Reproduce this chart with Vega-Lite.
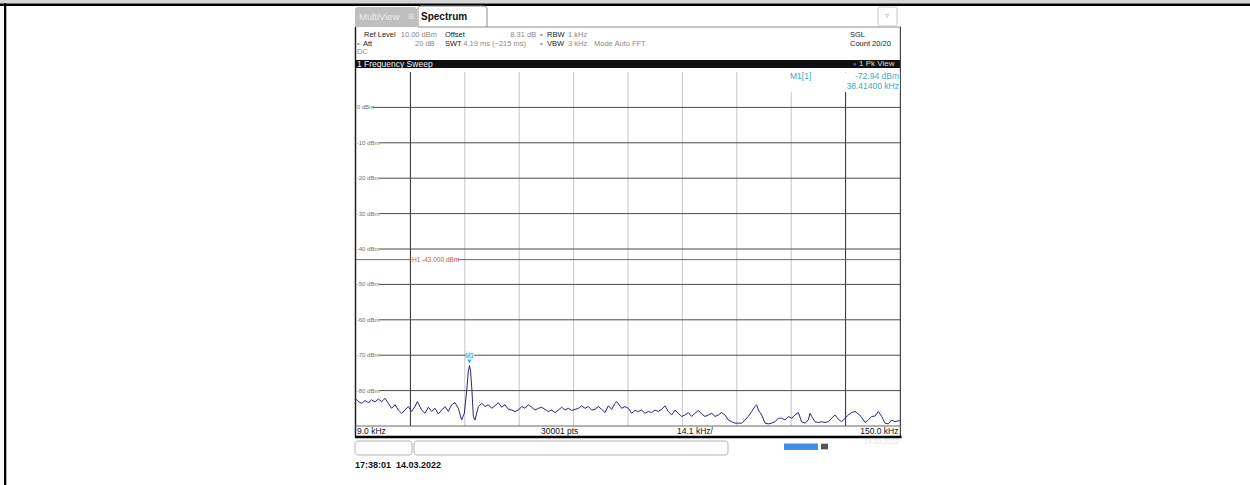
{
"$schema": "https://vega.github.io/schema/vega-lite/v6.json",
"autosize": "none",
"width": 544,
"height": 354,
"padding": {"left": 356, "top": 72, "right": 350, "bottom": 59},
"background": "white",
"config": {"axis": {"disable": true}, "view": {"stroke": null}, "font": "Liberation Sans"},
"data": {"values": [{}]},
"datasets": {
"trace": [
{"f":9.0,"p":-82.4},{"f":9.6,"p":-83.1},{"f":10.47,"p":-83.6},{"f":11.33,"p":-82.8},{"f":12.2,"p":-83.4},{"f":13.06,"p":-82.6},{"f":13.92,"p":-83.2},{"f":14.79,"p":-82.4},{"f":15.65,"p":-83.1},{"f":16.52,"p":-82.2},{"f":17.38,"p":-83.6},{"f":18.24,"p":-85.0},{"f":19.11,"p":-84.0},{"f":19.97,"p":-85.5},{"f":20.84,"p":-86.4},{"f":21.7,"p":-85.5},{"f":22.56,"p":-84.5},{"f":23.43,"p":-85.9},{"f":24.29,"p":-84.5},{"f":24.9,"p":-83.1},{"f":26.02,"p":-85.5},{"f":26.88,"p":-86.4},{"f":27.75,"p":-84.7},{"f":28.61,"p":-85.9},{"f":29.48,"p":-85.0},{"f":30.34,"p":-86.6},{"f":31.21,"p":-85.5},{"f":32.07,"p":-84.5},{"f":32.93,"p":-85.9},{"f":33.8,"p":-84.0},{"f":34.66,"p":-83.4},{"f":35.52,"p":-85.0},{"f":36.39,"p":-88.3},{"f":37.08,"p":-86.4},{"f":37.69,"p":-80.0},{"f":38.12,"p":-74.5},{"f":38.414,"p":-72.94},{"f":38.7,"p":-74.5},{"f":39.05,"p":-80.0},{"f":39.41,"p":-87.3},{"f":39.84,"p":-88.3},{"f":40.71,"p":-84.5},{"f":41.57,"p":-83.6},{"f":42.44,"p":-84.5},{"f":43.3,"p":-84.0},{"f":44.17,"p":-85.0},{"f":45.03,"p":-84.3},{"f":45.89,"p":-83.4},{"f":46.76,"p":-84.7},{"f":47.62,"p":-84.0},{"f":48.48,"p":-85.3},{"f":49.35,"p":-85.5},{"f":50.21,"p":-85.9},{"f":51.08,"p":-85.5},{"f":51.94,"p":-84.5},{"f":52.8,"p":-85.0},{"f":53.67,"p":-84.0},{"f":54.53,"p":-84.7},{"f":55.4,"p":-85.5},{"f":56.26,"p":-85.0},{"f":57.13,"p":-84.7},{"f":57.99,"p":-85.3},{"f":58.85,"p":-85.9},{"f":59.72,"p":-85.5},{"f":60.58,"p":-86.2},{"f":61.44,"p":-85.5},{"f":62.31,"p":-84.7},{"f":63.17,"p":-85.5},{"f":64.04,"p":-85.0},{"f":64.9,"p":-85.6},{"f":65.76,"p":-85.3},{"f":66.63,"p":-85.0},{"f":67.49,"p":-84.3},{"f":68.36,"p":-85.0},{"f":69.22,"p":-84.5},{"f":70.08,"p":-85.5},{"f":70.95,"p":-85.3},{"f":71.81,"p":-84.5},{"f":72.68,"p":-85.3},{"f":73.54,"p":-86.2},{"f":74.41,"p":-84.3},{"f":75.27,"p":-85.3},{"f":76.13,"p":-83.6},{"f":76.56,"p":-83.1},{"f":77.86,"p":-85.0},{"f":78.72,"p":-84.5},
{"f":79.58,"p":-85.0},{"f":80.45,"p":-86.4},{"f":81.31,"p":-85.6},{"f":82.18,"p":-85.9},{"f":83.04,"p":-85.5},{"f":83.9,"p":-86.4},{"f":84.77,"p":-85.9},{"f":85.63,"p":-86.2},{"f":86.5,"p":-85.5},{"f":87.36,"p":-85.9},{"f":88.22,"p":-85.3},{"f":89.09,"p":-84.3},{"f":89.95,"p":-85.9},{"f":90.82,"p":-86.9},{"f":91.68,"p":-85.5},{"f":92.54,"p":-86.4},{"f":93.41,"p":-87.3},{"f":94.27,"p":-86.9},{"f":95.14,"p":-86.2},{"f":96.0,"p":-87.3},{"f":96.86,"p":-86.4},{"f":97.73,"p":-85.6},{"f":98.59,"p":-86.6},{"f":99.46,"p":-87.3},{"f":100.32,"p":-86.9},{"f":101.18,"p":-86.4},{"f":102.05,"p":-87.3},{"f":102.91,"p":-86.9},{"f":103.78,"p":-86.2},{"f":104.64,"p":-86.9},{"f":105.5,"p":-88.3},{"f":106.37,"p":-88.8},{"f":107.23,"p":-89.2},{"f":108.1,"p":-89.2},{"f":108.96,"p":-89.2},{"f":109.82,"p":-88.3},{"f":110.69,"p":-87.3},{"f":111.55,"p":-85.9},{"f":112.42,"p":-84.5},{"f":112.85,"p":-84.0},{"f":113.28,"p":-85.5},{"f":114.14,"p":-86.9},{"f":115.01,"p":-89.2},{"f":115.87,"p":-89.4},{"f":116.74,"p":-89.2},{"f":117.6,"p":-88.8},{"f":118.46,"p":-87.8},{"f":119.33,"p":-87.8},{"f":120.19,"p":-88.3},{"f":121.06,"p":-87.3},{"f":121.92,"p":-87.8},{"f":122.78,"p":-86.9},{"f":123.65,"p":-86.2},{"f":124.51,"p":-88.8},{"f":125.38,"p":-89.2},{"f":126.24,"p":-88.3},{"f":126.67,"p":-86.4},{"f":127.1,"p":-87.3},{"f":127.97,"p":-88.8},{"f":128.83,"p":-89.0},{"f":129.7,"p":-88.8},{"f":130.56,"p":-89.0},{"f":131.42,"p":-88.8},{"f":132.29,"p":-87.8},{"f":133.15,"p":-86.9},{"f":134.02,"p":-88.1},{"f":134.88,"p":-88.8},{"f":135.74,"p":-87.8},{"f":136.61,"p":-86.9},{"f":137.47,"p":-86.2},{"f":138.34,"p":-85.9},{"f":139.2,"p":-86.6},{"f":140.06,"p":-87.5},{"f":140.93,"p":-89.0},{"f":141.79,"p":-88.3},{"f":142.66,"p":-87.3},{"f":143.52,"p":-87.2},{"f":144.38,"p":-85.9},{"f":145.25,"p":-87.3},{"f":146.11,"p":-89.2},{"f":146.98,"p":-89.4},{"f":147.84,"p":-88.3},{"f":148.7,"p":-88.8},{"f":149.57,"p":-88.5},{"f":150.0,"p":-88.6}
],
"vlight": [{"f":37.2},{"f":51.3},{"f":65.4},{"f":79.5},{"f":93.6},{"f":107.7},{"f":121.8}],
"vdark": [{"f":23.1},{"f":135.9}],
"hgrid": [{"lvl":-10,"lab":"-10 dBm"},{"lvl":-20,"lab":"-20 dBm"},{"lvl":-30,"lab":"-30 dBm"},{"lvl":-40,"lab":"-40 dBm"},{"lvl":-50,"lab":"-50 dBm"},{"lvl":-60,"lab":"-60 dBm"},{"lvl":-70,"lab":"-70 dBm"},{"lvl":-80,"lab":"-80 dBm"}],
"hgrid0": [{"lvl":0,"lab":"0 dBm"}]
},
"layer": [
{"mark": {"type": "rect", "fill": "#d4d4d4"}, "encoding": {"x": {"datum": -84}, "x2": {"datum": 242}, "y": {"datum": 30.4}, "y2": {"datum": 29.35}}},
{"mark": {"type": "rule", "stroke": "black", "strokeWidth": 2.6}, "encoding": {"x": {"datum": -84}, "x2": {"datum": 242}, "y": {"datum": 29.0}}},
{"mark": {"type": "rule", "stroke": "black", "strokeWidth": 2.3}, "encoding": {"x": {"datum": -81.94}, "y": {"datum": 29.4}, "y2": {"datum": -107}}},

{"mark": {"type": "rect", "fill": "#bfbfbf", "cornerRadiusTopLeft": 3, "cornerRadiusTopRight": 3}, "encoding": {"x": {"datum": 8.74}, "x2": {"datum": 24.81}, "y": {"datum": 28.36}, "y2": {"datum": 22.71}}},
{"mark": {"type": "rect", "fill": "white", "stroke": "#8a8a8a", "strokeWidth": 1, "cornerRadiusTopLeft": 3, "cornerRadiusTopRight": 3}, "encoding": {"x": {"datum": 25.07}, "x2": {"datum": 42.95}, "y": {"datum": 28.64}, "y2": {"datum": 22.71}}},
{"mark": {"type": "rule", "stroke": "#8a8a8a", "strokeWidth": 1}, "encoding": {"x": {"datum": 42.95}, "x2": {"datum": 150.26}, "y": {"datum": 22.71}}},
{"mark": {"type": "rect", "fill": "white", "stroke": "#c8c8c8", "strokeWidth": 1, "cornerRadius": 2}, "encoding": {"x": {"datum": 144.3}, "x2": {"datum": 149.22}, "y": {"datum": 28.36}, "y2": {"datum": 22.99}}},
{"mark": {"type": "text", "text": "▿", "align": "center", "fontSize": 8, "color": "#b0b0b0"}, "encoding": {"x": {"datum": 146.76}, "y": {"datum": 25.8}}},
{"mark": {"type": "text", "text": "MultiView", "align": "left", "fontSize": 9.5, "color": "#ececec"}, "encoding": {"x": {"datum": 9.78}, "y": {"datum": 25.4}}},
{"mark": {"type": "text", "text": "⊞", "align": "left", "fontSize": 8, "color": "#e6e6e6"}, "encoding": {"x": {"datum": 22.5}, "y": {"datum": 25.4}}},
{"mark": {"type": "text", "text": "Spectrum", "align": "left", "fontSize": 10, "fontWeight": "bold", "color": "#111111"}, "encoding": {"x": {"datum": 25.85}, "y": {"datum": 25.4}}},

{"mark": {"type": "text", "text": "Ref Level", "align": "left", "fontSize": 7.5, "color": "#222222"}, "encoding": {"x": {"datum": 11.07}, "y": {"datum": 20.45}}},
{"mark": {"type": "text", "text": "10.00 dBm", "align": "left", "fontSize": 7.5, "color": "#8a8a8a"}, "encoding": {"x": {"datum": 20.6}, "y": {"datum": 20.45}}},
{"mark": {"type": "text", "text": "Offset", "align": "left", "fontSize": 7.5, "color": "#222222"}, "encoding": {"x": {"datum": 32.07}, "y": {"datum": 20.45}}},
{"mark": {"type": "text", "text": "8.31 dB", "align": "left", "fontSize": 7.5, "color": "#8a8a8a"}, "encoding": {"x": {"datum": 49.0}, "y": {"datum": 20.45}}},
{"mark": {"type": "text", "text": "•", "align": "left", "fontSize": 7.5, "color": "#8a8a8a"}, "encoding": {"x": {"datum": 56.69}, "y": {"datum": 20.45}}},
{"mark": {"type": "text", "text": "RBW", "align": "left", "fontSize": 7.5, "color": "#222222"}, "encoding": {"x": {"datum": 58.5}, "y": {"datum": 20.45}}},
{"mark": {"type": "text", "text": "1 kHz", "align": "left", "fontSize": 7.5, "color": "#8a8a8a"}, "encoding": {"x": {"datum": 63.95}, "y": {"datum": 20.45}}},
{"mark": {"type": "text", "text": "SGL", "align": "left", "fontSize": 7.5, "color": "#222222"}, "encoding": {"x": {"datum": 137.04}, "y": {"datum": 20.45}}},
{"mark": {"type": "text", "text": "•", "align": "left", "fontSize": 7.5, "color": "#8a8a8a"}, "encoding": {"x": {"datum": 9.26}, "y": {"datum": 17.91}}},
{"mark": {"type": "text", "text": "Att", "align": "left", "fontSize": 7.5, "color": "#222222"}, "encoding": {"x": {"datum": 10.81}, "y": {"datum": 17.91}}},
{"mark": {"type": "text", "text": "20 dB", "align": "left", "fontSize": 7.5, "color": "#8a8a8a"}, "encoding": {"x": {"datum": 24.29}, "y": {"datum": 17.91}}},
{"mark": {"type": "text", "text": "SWT", "align": "left", "fontSize": 7.5, "color": "#222222"}, "encoding": {"x": {"datum": 32.07}, "y": {"datum": 17.91}}},
{"mark": {"type": "text", "text": "4.19 ms (~215 ms)", "align": "left", "fontSize": 7.5, "color": "#8a8a8a"}, "encoding": {"x": {"datum": 36.8}, "y": {"datum": 17.91}}},
{"mark": {"type": "text", "text": "•", "align": "left", "fontSize": 7.5, "color": "#8a8a8a"}, "encoding": {"x": {"datum": 56.69}, "y": {"datum": 17.91}}},
{"mark": {"type": "text", "text": "VBW", "align": "left", "fontSize": 7.5, "color": "#222222"}, "encoding": {"x": {"datum": 58.5}, "y": {"datum": 17.91}}},
{"mark": {"type": "text", "text": "3 kHz", "align": "left", "fontSize": 7.5, "color": "#8a8a8a"}, "encoding": {"x": {"datum": 63.95}, "y": {"datum": 17.91}}},
{"mark": {"type": "text", "text": "Mode Auto FFT", "align": "left", "fontSize": 7.5, "color": "#8a8a8a"}, "encoding": {"x": {"datum": 70.69}, "y": {"datum": 17.91}}},
{"mark": {"type": "text", "text": "Count 20/20", "align": "left", "fontSize": 7.5, "color": "#222222"}, "encoding": {"x": {"datum": 137.04}, "y": {"datum": 17.91}}},
{"mark": {"type": "text", "text": "DC", "align": "left", "fontSize": 7.5, "color": "#8a8a8a"}, "encoding": {"x": {"datum": 9.26}, "y": {"datum": 15.65}}},

{"mark": {"type": "rect", "fill": "#101010"}, "encoding": {"x": {"datum": 8.74}, "x2": {"datum": 150.26}, "y": {"datum": 13.39}, "y2": {"datum": 11.13}}},
{"mark": {"type": "text", "text": "1 Frequency Sweep", "align": "left", "fontSize": 8.5, "color": "#f2f2f2"}, "encoding": {"x": {"datum": 9.26}, "y": {"datum": 12.26}}},
{"mark": {"type": "text", "text": "●", "align": "left", "fontSize": 6, "color": "#3c5ae0"}, "encoding": {"x": {"datum": 137.8}, "y": {"datum": 12.26}}},
{"mark": {"type": "text", "text": "1 Pk View", "align": "left", "fontSize": 8, "color": "#dcdcdc"}, "encoding": {"x": {"datum": 139.4}, "y": {"datum": 12.26}}},

{"mark": {"type": "rule", "stroke": "#222222", "strokeWidth": 1.5}, "encoding": {"x": {"datum": 8.87}, "y": {"datum": 22.71}, "y2": {"datum": -93.1}}},
{"mark": {"type": "rule", "stroke": "#444444", "strokeWidth": 1.2}, "encoding": {"x": {"datum": 150.1}, "y": {"datum": 22.71}, "y2": {"datum": -93.1}}},

{"data": {"name": "vlight"}, "mark": {"type": "rule", "stroke": "#c6c6c6", "strokeWidth": 1}, "encoding": {"x": {"field": "f", "type": "quantitative"}, "y": {"datum": 10}, "y2": {"datum": -90}}},
{"data": {"name": "vdark"}, "mark": {"type": "rule", "stroke": "#2a2a2a", "strokeWidth": 1}, "encoding": {"x": {"field": "f", "type": "quantitative"}, "y": {"datum": 10}, "y2": {"datum": -90}}},
{"data": {"name": "hgrid"}, "mark": {"type": "rule", "stroke": "#4a4a4a", "strokeWidth": 1}, "encoding": {"x": {"datum": 15.0}, "x2": {"datum": 150}, "y": {"field": "lvl", "type": "quantitative"}}},
{"data": {"name": "hgrid0"}, "mark": {"type": "rule", "stroke": "#4a4a4a", "strokeWidth": 1}, "encoding": {"x": {"datum": 13.3}, "x2": {"datum": 150}, "y": {"field": "lvl", "type": "quantitative"}}},
{"data": {"name": "hgrid"}, "mark": {"type": "text", "align": "left", "fontSize": 6, "color": "#707070"}, "encoding": {"x": {"datum": 9.2}, "y": {"field": "lvl", "type": "quantitative"}, "text": {"field": "lab"}}},
{"data": {"name": "hgrid0"}, "mark": {"type": "text", "align": "left", "fontSize": 6, "color": "#707070"}, "encoding": {"x": {"datum": 9.2}, "y": {"field": "lvl", "type": "quantitative"}, "text": {"field": "lab"}}},
{"mark": {"type": "rule", "stroke": "#666666", "strokeWidth": 1}, "encoding": {"x": {"datum": 8.74}, "x2": {"datum": 150.26}, "y": {"datum": -90}}},
{"mark": {"type": "rule", "stroke": "black", "strokeWidth": 2.5}, "encoding": {"x": {"datum": 8.74}, "x2": {"datum": 150.4}, "y": {"datum": -93.1}}},

{"mark": {"type": "rule", "stroke": "#b0503c", "strokeWidth": 1}, "encoding": {"x": {"datum": 9}, "x2": {"datum": 150}, "y": {"datum": -43}}},
{"mark": {"type": "rect", "fill": "white"}, "encoding": {"x": {"datum": 23.4}, "x2": {"datum": 35.3}, "y": {"datum": -42.0}, "y2": {"datum": -44.0}}},
{"mark": {"type": "text", "text": "H1  -43.000 dBm", "align": "left", "fontSize": 6.5, "color": "#c0604c"}, "encoding": {"x": {"datum": 23.5}, "y": {"datum": -43}}},

{"mark": {"type": "rect", "fill": "white"}, "encoding": {"x": {"datum": 117.6}, "x2": {"datum": 149.9}, "y": {"datum": 9.9}, "y2": {"datum": 4.35}}},
{"mark": {"type": "text", "text": "M1[1]", "align": "left", "fontSize": 8.5, "color": "#44a8c0"}, "encoding": {"x": {"datum": 121.49}, "y": {"datum": 8.87}}},
{"mark": {"type": "text", "text": "-72.94 dBm", "align": "right", "fontSize": 8.5, "color": "#44a8c0"}, "encoding": {"x": {"datum": 149.74}, "y": {"datum": 8.87}}},
{"mark": {"type": "text", "text": "38.41400 kHz", "align": "right", "fontSize": 8.5, "color": "#44a8c0"}, "encoding": {"x": {"datum": 149.74}, "y": {"datum": 6.05}}},

{"data": {"name": "trace"}, "mark": {"type": "line", "stroke": "#262a78", "strokeWidth": 1, "clip": false}, "encoding": {"x": {"field": "f", "type": "quantitative", "scale": {"domain": [9, 150], "nice": false, "zero": false}}, "y": {"field": "p", "type": "quantitative", "scale": {"domain": [-90, 10], "nice": false, "zero": false}}}},

{"mark": {"type": "rect", "fill": "#d6f3f8"}, "encoding": {"x": {"datum": 37.3}, "x2": {"datum": 39.6}, "y": {"datum": -69.0}, "y2": {"datum": -71.3}}},
{"mark": {"type": "text", "text": "M1", "align": "center", "fontSize": 6.5, "color": "#3aa6c0"}, "encoding": {"x": {"datum": 38.41}, "y": {"datum": -70.2}}},
{"mark": {"type": "point", "shape": "triangle-down", "filled": true, "size": 18, "color": "#35b4cc", "opacity": 1}, "encoding": {"x": {"datum": 38.41}, "y": {"datum": -71.8}}},

{"mark": {"type": "text", "text": "9.0 kHz", "align": "left", "fontSize": 8.5, "color": "#111111"}, "encoding": {"x": {"datum": 9.26}, "y": {"datum": -91.5}}},
{"mark": {"type": "text", "text": "30001 pts", "align": "left", "fontSize": 8.5, "color": "#111111"}, "encoding": {"x": {"datum": 56.95}, "y": {"datum": -91.5}}},
{"mark": {"type": "text", "text": "14.1 kHz/", "align": "left", "fontSize": 8.5, "color": "#111111"}, "encoding": {"x": {"datum": 92.2}, "y": {"datum": -91.5}}},
{"mark": {"type": "text", "text": "150.0 kHz", "align": "right", "fontSize": 8.5, "color": "#111111"}, "encoding": {"x": {"datum": 149.6}, "y": {"datum": -91.5}}},

{"mark": {"type": "rect", "fill": "white", "stroke": "#b4b4b4", "strokeWidth": 1, "cornerRadius": 3}, "encoding": {"x": {"datum": 8.74}, "x2": {"datum": 23.51}, "y": {"datum": -94.24}, "y2": {"datum": -98.19}}},
{"mark": {"type": "rect", "fill": "white", "stroke": "#b4b4b4", "strokeWidth": 1, "cornerRadius": 3}, "encoding": {"x": {"datum": 24.03}, "x2": {"datum": 105.42}, "y": {"datum": -94.24}, "y2": {"datum": -98.19}}},
{"mark": {"type": "rect", "fill": "#3d8ee6"}, "encoding": {"x": {"datum": 119.93}, "x2": {"datum": 128.74}, "y": {"datum": -94.94}, "y2": {"datum": -96.78}}},
{"mark": {"type": "rect", "fill": "#555555"}, "encoding": {"x": {"datum": 129.52}, "x2": {"datum": 131.34}, "y": {"datum": -95.0}, "y2": {"datum": -96.6}}},
{"mark": {"type": "text", "text": "14.03.2022", "align": "left", "fontSize": 7, "color": "#e4e4e4"}, "encoding": {"x": {"datum": 140.67}, "y": {"datum": -94.6}}},

{"mark": {"type": "text", "text": "17:38:01\u00a0 14.03.2022", "align": "left", "fontSize": 9, "fontWeight": "bold", "color": "#111111"}, "encoding": {"x": {"datum": 8.74}, "y": {"datum": -101.0}}}
]
}
